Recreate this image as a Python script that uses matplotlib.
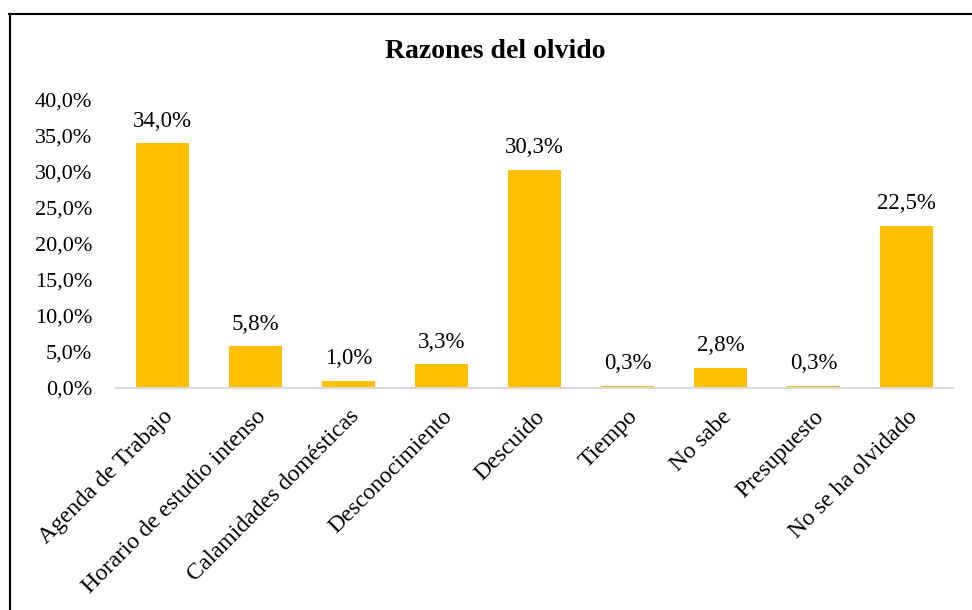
import matplotlib.pyplot as plt
from matplotlib.lines import Line2D

plt.rcParams['font.family'] = ['Liberation Serif', 'DejaVu Serif']

# datos
razones = ['Agenda de Trabajo', 'Horario de estudio intenso', 'Calamidades domésticas',
           'Desconocimiento', 'Descuido', 'Tiempo', 'No sabe', 'Presupuesto',
           'No se ha olvidado']
porcentajes = [34.0, 5.8, 1.0, 3.3, 30.3, 0.3, 2.8, 0.3, 22.5]
yticks = [0, 5, 10, 15, 20, 25, 30, 35, 40]

fig = plt.figure(figsize=(9.72, 6.10), dpi=100)
W, H = 972, 610
ax = fig.add_axes([116 / W, 1 - 388 / H, (953 - 116) / W, (388 - 100) / H])

x = range(len(razones))
ax.bar(x, porcentajes, width=0.57, color='#FFC000', zorder=2)

for xi, v in zip(x, porcentajes):
    ax.text(xi, v + 1.6, f'{v:.1f}%'.replace('.', ','), ha='center', va='bottom', fontsize=16.5)

ax.set_xlim(-0.5, len(razones) - 0.5)
ax.set_ylim(0, 40)
ax.set_yticks(yticks)
ax.set_yticklabels([f'{t:.1f}%'.replace('.', ',') for t in yticks], fontsize=16)
ax.set_xticks(list(x))
ax.set_xticklabels(razones, rotation=45, ha='right', rotation_mode='anchor', fontsize=17)
ax.tick_params(axis='both', length=0)
ax.tick_params(axis='x', pad=13)
ax.tick_params(axis='y', pad=17)

for s in ['top', 'right', 'left']:
    ax.spines[s].set_visible(False)
ax.spines['bottom'].set_color('#D9D9D9')
ax.spines['bottom'].set_linewidth(1.5)

fig.text(495 / W, 1 - 52 / H, 'Razones del olvido', ha='center', va='center',
         fontsize=20, fontweight='bold')

# marco
fig.add_artist(Line2D([9 / W, 1], [1 - 13.5 / H, 1 - 13.5 / H], color='black', lw=1.5))
fig.add_artist(Line2D([9.5 / W, 9.5 / W], [0, 1 - 13.5 / H], color='black', lw=1.5))

fig.savefig('out.png', dpi=100)
